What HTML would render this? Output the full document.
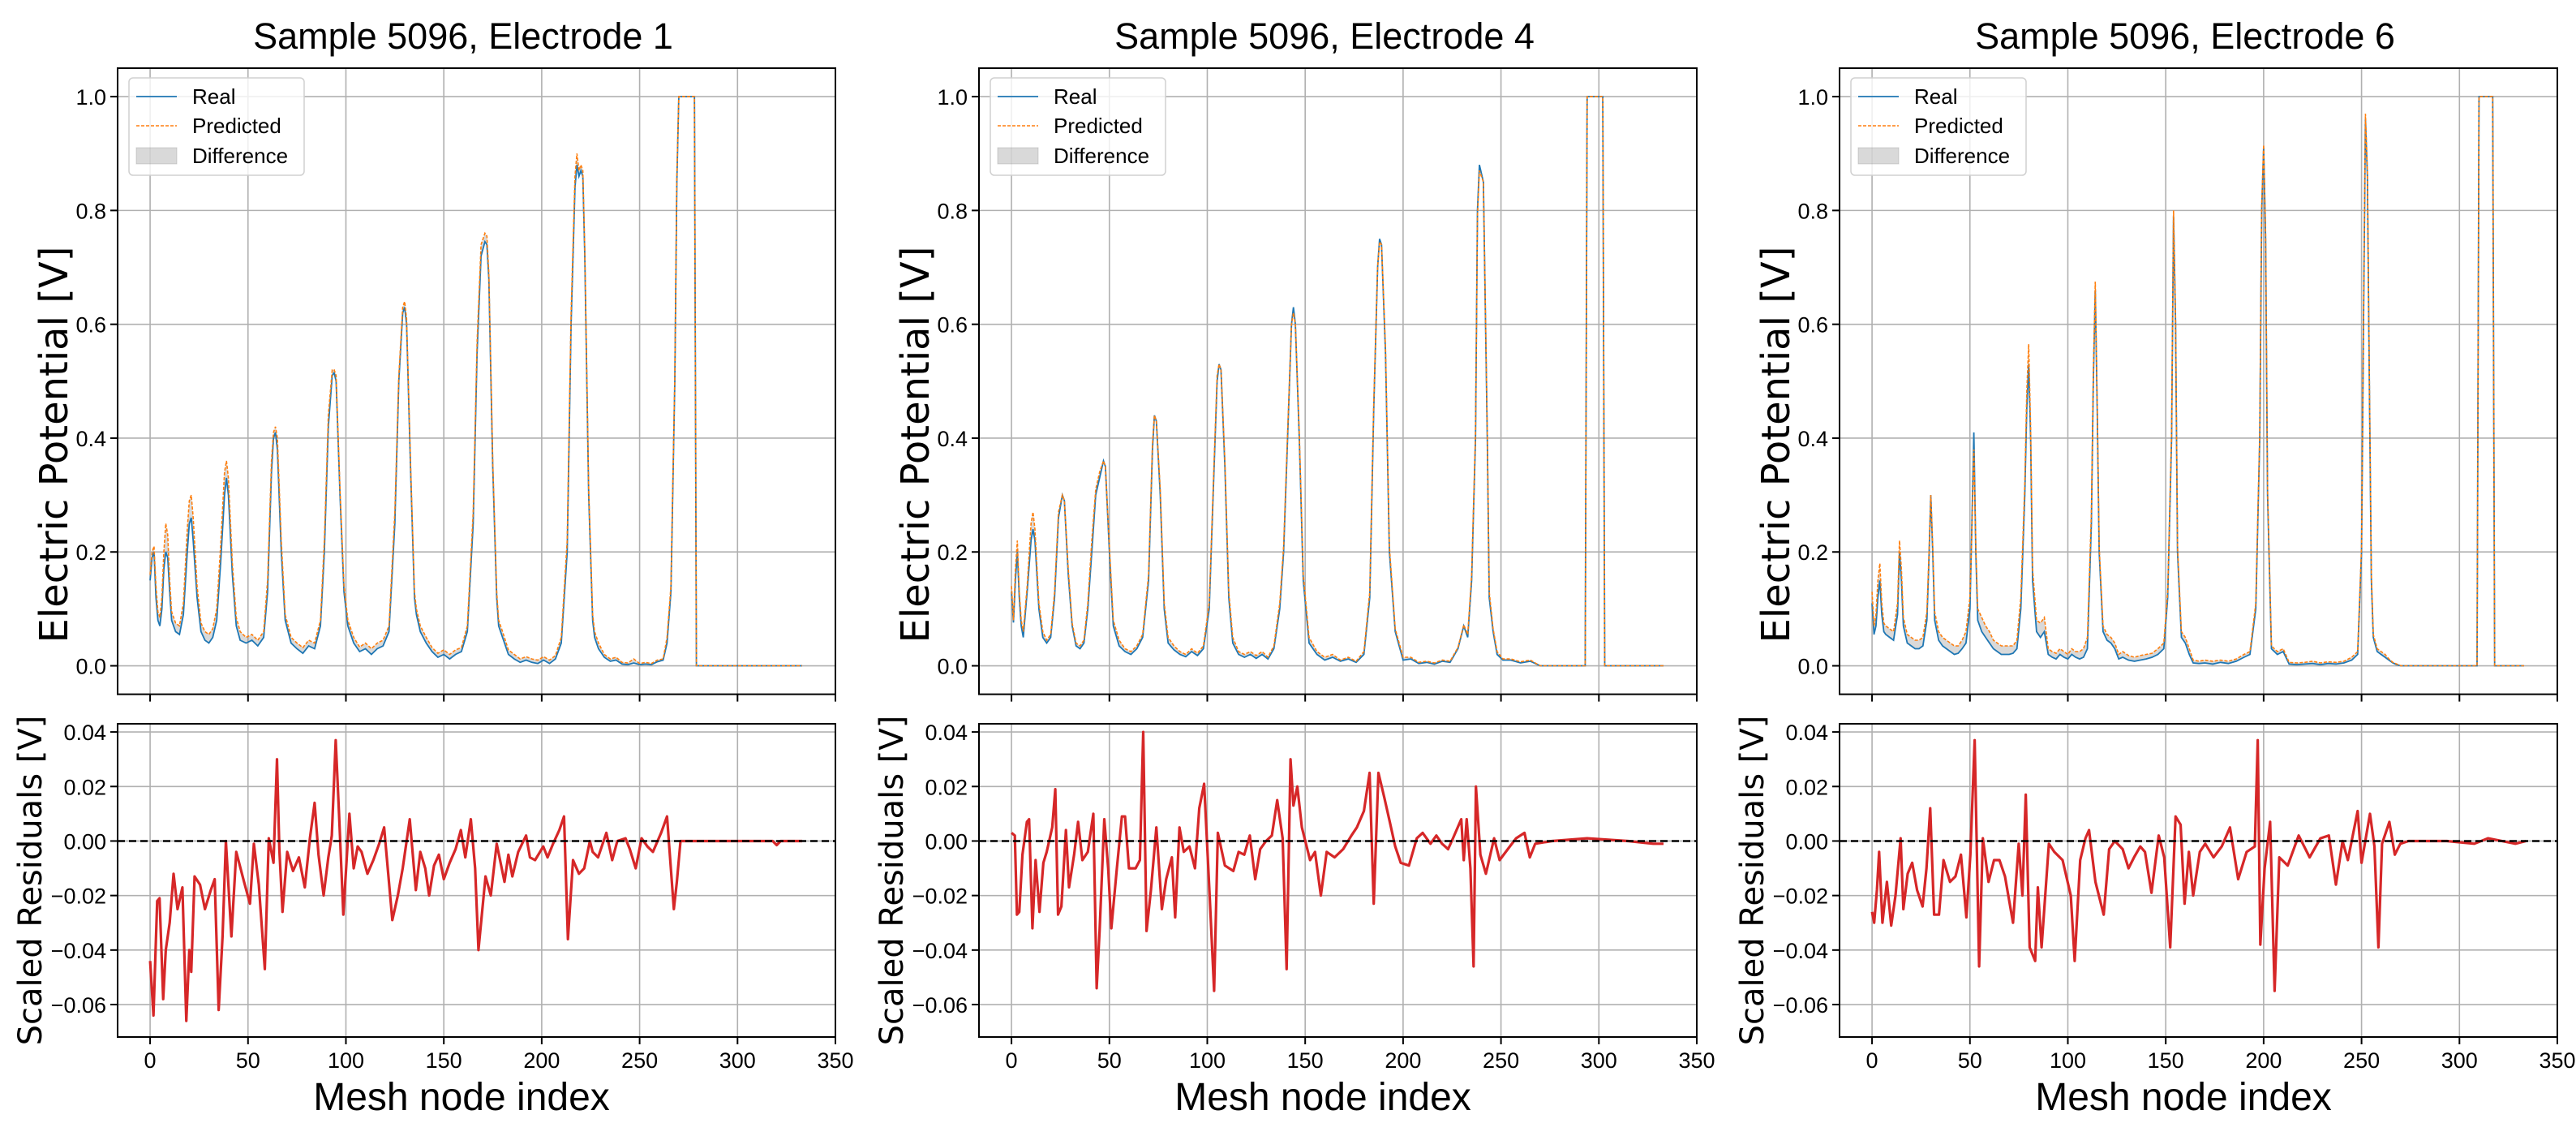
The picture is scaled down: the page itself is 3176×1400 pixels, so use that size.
<!DOCTYPE html>
<html><head><meta charset="utf-8">
<style>
html,body{margin:0;padding:0;background:#fff;}
svg{display:block;}
text{font-family:"Liberation Sans",sans-serif;}
</style></head>
<body>
<svg id="fig" width="3176" height="1400" viewBox="0 0 3176 1400" xmlns="http://www.w3.org/2000/svg"></svg>
<script>
// ---------------- DATA ----------------
const panelTitles = ["Sample 5096, Electrode 1","Sample 5096, Electrode 4","Sample 5096, Electrode 6"];
const xTicks = [0,50,100,150,200,250,300,350];
const topYTicks = [0.0,0.2,0.4,0.6,0.8,1.0];
const topYTickLabels = ["0.0","0.2","0.4","0.6","0.8","1.0"];
const resYTicks = [0.04,0.02,0.0,-0.02,-0.04,-0.06];
const resYTickLabels = ["0.04","0.02","0.00","\u22120.02","\u22120.04","\u22120.06"];

const nodes1 = [0,1,2,3,4,5,6,7,8,9,
 10,11,13,15,17,19,20,21,22,24,
 26,28,30,32,34,36,38,39,40,42,
 44,46,49,52,55,58,60,62,63,64,
 65,67,69,72,75,78,81,84,87,89,
 91,93,94,95,97,99,101,104,107,110,
 113,116,119,122,125,127,129,130,131,133,
 135,136,138,141,144,147,150,153,156,159,
 162,165,167,169,171,172,173,175,177,178,
 180,183,186,189,192,195,198,201,204,207,
 210,213,215,217,218,219,220,221,222,224,
 226,227,229,232,235,238,241,244,247,250,
 253,256,259,262,264,266,268,269,270,278,
 279,333];
const real1 = [.15,.19,.20,.12,.08,.07,.10,.17,.20,.19,
 .13,.08,.06,.055,.09,.20,.25,.26,.22,.12,
 .06,.045,.04,.05,.08,.18,.30,.33,.30,.16,
 .07,.045,.04,.045,.035,.05,.13,.34,.40,.41,
 .38,.20,.08,.04,.03,.022,.035,.03,.07,.20,
 .42,.51,.515,.50,.30,.13,.07,.04,.025,.03,
 .02,.03,.035,.06,.25,.50,.62,.63,.60,.35,
 .12,.09,.06,.04,.025,.015,.02,.012,.02,.025,
 .06,.25,.55,.72,.745,.74,.68,.35,.12,.07,
 .05,.02,.012,.006,.01,.006,.004,.01,.004,.012,
 .04,.20,.60,.84,.88,.86,.87,.86,.72,.30,
 .08,.05,.03,.015,.008,.01,.003,.002,.005,.002,
 .003,.002,.007,.01,.04,.13,.50,.85,1,1,
 0,0];
const pred1 = [.16,.20,.21,.14,.095,.085,.12,.20,.25,.23,
 .15,.095,.075,.07,.11,.24,.29,.30,.26,.14,
 .075,.06,.055,.065,.10,.21,.34,.36,.33,.18,
 .085,.06,.05,.055,.045,.06,.15,.36,.41,.42,
 .40,.22,.09,.05,.04,.032,.045,.04,.08,.22,
 .44,.52,.52,.51,.31,.14,.08,.05,.033,.04,
 .03,.04,.045,.07,.27,.51,.63,.64,.61,.36,
 .13,.10,.07,.05,.032,.022,.028,.02,.028,.032,
 .07,.27,.57,.74,.76,.755,.69,.36,.13,.08,
 .06,.028,.02,.012,.016,.012,.01,.016,.01,.018,
 .05,.22,.62,.86,.90,.87,.88,.87,.73,.31,
 .09,.06,.04,.02,.012,.015,.006,.005,.012,.004,
 .006,.004,.01,.012,.05,.14,.51,.86,1,1,
 0,0];

const nodes2 = [0,1,2,3,4,5,6,8,10,11,
 12,14,16,18,20,22,24,26,27,29,
 31,33,35,37,39,41,43,45,47,48,
 50,52,55,58,61,64,67,70,72,73,
 74,76,78,80,83,86,89,92,95,98,
 101,103,105,106,107,109,111,113,116,119,
 122,125,128,131,134,137,139,141,143,144,
 145,147,149,152,156,160,164,168,172,176,
 180,183,185,187,188,189,191,193,196,200,
 204,208,212,216,220,224,228,231,233,235,
 237,238,239,241,243,244,246,248,251,255,
 260,265,270,293,294,302,303,333];
const real2 = [.13,.076,.15,.20,.12,.07,.05,.13,.22,.24,
 .22,.10,.05,.04,.05,.12,.26,.30,.29,.16,
 .07,.035,.03,.04,.10,.20,.30,.33,.36,.35,
 .20,.07,.035,.025,.02,.03,.05,.15,.38,.44,
 .43,.30,.10,.04,.028,.02,.016,.025,.018,.03,
 .10,.30,.50,.53,.52,.35,.12,.04,.02,.015,
 .02,.013,.02,.012,.03,.10,.20,.40,.60,.63,
 .60,.40,.15,.04,.02,.01,.015,.008,.012,.006,
 .02,.12,.45,.70,.75,.74,.55,.20,.06,.01,
 .012,.004,.006,.003,.008,.006,.03,.07,.05,.15,
 .40,.80,.88,.85,.40,.12,.06,.02,.01,.01,
 .005,.008,0,0,1,1,0,0];
const pred2 = [.14,.08,.17,.22,.13,.08,.06,.14,.25,.27,
 .24,.11,.06,.045,.055,.13,.27,.30,.29,.17,
 .075,.04,.035,.045,.11,.22,.31,.34,.36,.35,
 .21,.08,.045,.03,.025,.035,.055,.16,.39,.44,
 .43,.31,.11,.05,.035,.025,.02,.03,.022,.035,
 .11,.31,.51,.53,.52,.36,.13,.05,.025,.02,
 .025,.018,.025,.015,.035,.11,.21,.41,.60,.62,
 .60,.41,.16,.05,.025,.015,.02,.01,.015,.008,
 .025,.13,.46,.70,.745,.74,.56,.21,.065,.015,
 .015,.006,.008,.005,.01,.008,.032,.072,.055,.16,
 .41,.79,.87,.85,.41,.13,.065,.025,.012,.012,
 .007,.01,0,0,1,1,0,0];

const nodes3 = [0,1,2,3,4,5,6,7,9,11,
 13,14,15,16,18,20,22,24,26,28,
 29,30,31,32,34,36,38,40,42,44,
 46,48,50,51,52,53,54,56,58,60,
 62,64,66,68,70,72,74,76,78,79,
 80,81,82,84,86,88,90,92,94,96,
 98,100,102,104,106,108,110,112,113,114,
 115,116,118,120,122,124,126,128,131,134,
 137,140,143,146,149,151,153,154,155,156,
 158,160,162,164,167,170,174,178,182,186,
 190,193,196,198,199,200,201,202,204,207,
 210,213,217,221,225,229,233,237,241,245,
 248,250,251,252,253,254,255,256,258,260,
 262,264,266,268,270,309,310,317,318,333];
const real3 = [.11,.055,.07,.12,.15,.09,.06,.055,.05,.045,
 .09,.20,.15,.07,.04,.035,.03,.03,.035,.08,
 .18,.30,.20,.08,.045,.035,.03,.025,.02,.022,
 .03,.04,.10,.25,.41,.20,.08,.06,.05,.04,
 .03,.025,.02,.02,.02,.022,.03,.10,.30,.45,
 .53,.40,.15,.06,.05,.06,.02,.015,.012,.02,
 .015,.012,.02,.015,.012,.015,.03,.25,.50,.66,
 .45,.20,.06,.045,.04,.03,.012,.015,.01,.008,
 .01,.012,.015,.02,.03,.12,.40,.79,.60,.20,
 .05,.04,.02,.005,.004,.005,.003,.006,.004,.008,
 .015,.02,.10,.40,.80,.91,.75,.30,.03,.02,
 .025,.003,.002,.003,.004,.002,.004,.003,.005,.01,
 .02,.20,.60,.96,.86,.50,.15,.05,.025,.02,
 .015,.01,.005,.002,0,0,1,1,0,0];
const pred3 = [.13,.07,.09,.15,.18,.11,.075,.07,.065,.06,
 .11,.22,.17,.085,.055,.05,.045,.045,.05,.095,
 .19,.30,.21,.095,.06,.05,.045,.04,.035,.035,
 .045,.06,.12,.24,.38,.21,.10,.085,.07,.06,
 .045,.04,.035,.035,.035,.035,.045,.12,.32,.48,
 .565,.42,.17,.08,.075,.085,.03,.025,.022,.03,
 .025,.02,.03,.025,.025,.03,.05,.27,.51,.675,
 .46,.21,.07,.055,.05,.04,.02,.025,.018,.015,
 .018,.02,.022,.03,.04,.13,.41,.80,.61,.21,
 .06,.05,.03,.01,.008,.01,.008,.01,.008,.012,
 .02,.025,.11,.41,.81,.915,.76,.31,.035,.025,
 .03,.006,.005,.006,.008,.005,.007,.006,.008,.015,
 .025,.21,.61,.97,.87,.51,.16,.055,.03,.025,
 .02,.012,.006,.003,0,0,1,1,0,0];

const resNodes1 = [0,1.7,3.6,4.8,6.7,8,10,12,14,16.5,18.5,20,21,22.7,25.5,28,31,33,35,37,38.7,41.5,44,48,51,53,55.5,58.6,60.6,63,64.8,66,67.6,70,73,76,79,81.6,84,86,88.6,91,92.8,94.8,96.5,98.7,101.8,104,106,108,111,114,117,119.5,123.7,126.5,129,132.6,135.7,138,140.5,142.5,145,147.5,150,153,156,158.7,161,163.8,166,167.7,171.3,174,177,181,183,185,188,192,194,196.6,200.8,203,205.8,209,211.4,213.4,216,219,221.7,224.6,226,228.8,233,236,238.6,242.8,245,248,251,254,256.8,261,264,267.5,269,270.9,280,300,318,320,322,333];
const resVals1 = [-.044,-.064,-.022,-.021,-.058,-.04,-.03,-.012,-.025,-.017,-.066,-.04,-.048,-.013,-.016,-.025,-.018,-.014,-.062,-.035,0,-.035,-.004,-.015,-.023,-.001,-.016,-.047,.001,-.008,.03,-.003,-.026,-.004,-.011,-.006,-.017,.001,.014,-.005,-.02,-.006,.002,.037,.01,-.027,.01,-.01,-.002,-.004,-.012,-.007,-.001,.005,-.029,-.02,-.01,.008,-.018,-.004,-.01,-.02,-.009,-.005,-.014,-.008,-.003,.004,-.006,.008,-.01,-.04,-.013,-.02,-.001,-.015,-.005,-.013,-.004,.002,-.006,-.007,-.002,-.006,-.001,.004,.009,-.036,-.007,-.012,-.01,0,-.004,-.006,.003,-.007,0,.001,-.003,-.01,.001,-.002,-.004,.003,.009,-.025,-.015,0,0,0,0,-.0015,0,0];

const resNodes2 = [0,1.7,2.8,4,5.6,7.9,9,10.7,12.3,14.3,16.3,18,20.8,22.4,23.8,25.5,27.8,29.4,32,34,36.2,39,41.8,43.5,45,47.4,49.4,51,53.8,56.4,58,60,63.4,65.6,67.3,69,71.2,74,76.8,79,81.9,83.6,85.8,88,90.9,93.7,95.9,98.4,101.2,103.5,105.4,109,113.3,116,118.9,121.7,124.5,127,130,133,135.7,138.5,140.5,142.5,144,146,148.3,152.5,155,158,161,165,169.4,173.6,176.4,180,182.9,185,187.4,190.4,193.2,196,198.8,203,207,210,214,217,219.9,223,225.5,229.7,231,232.5,234.4,236,237.2,239.5,242.3,246.5,249.3,253.5,257.7,262,264.7,267.5,276,294,315,327.8,333];
const resVals2 = [.003,.002,-.027,-.026,-.005,.007,.008,-.032,-.007,-.026,-.008,-.004,.005,.019,-.027,-.024,.004,-.017,-.005,.007,-.007,-.004,.01,-.054,-.033,.008,-.01,-.032,-.01,.009,.009,-.01,-.01,-.007,.04,-.033,-.018,.005,-.025,-.014,-.006,-.028,.005,-.004,-.002,-.01,.012,.021,-.02,-.055,.003,-.009,-.011,-.004,-.005,.002,-.014,-.003,0,.002,.015,.001,-.047,.03,.013,.02,.005,-.007,-.004,-.02,-.004,-.006,-.003,.002,.005,.011,.025,-.023,.025,.016,.007,-.002,-.008,-.009,.001,.003,-.001,.002,-.001,-.003,.001,.008,-.007,.008,-.01,-.046,.02,-.005,-.012,.001,-.007,-.003,.001,.003,-.006,-.001,0,.001,0,-.001,-.001];

const resNodes3 = [0,1.1,2.5,3.6,5.3,7.6,9.8,12,14.6,16,18.2,20.5,23,25.8,27.8,29.7,31.7,34.2,36.5,39.8,42.6,45.4,48.2,50.2,52.4,54.7,56.6,59.5,62.3,65.1,67.9,72,74.9,76.8,78.5,80.5,83.3,84.7,86.6,90.3,93.1,97.3,101.5,103.5,106.3,109,110.8,114.1,118.3,121.1,124,128,131,133.8,137,139.4,142.7,146.4,149.2,152.3,155,157.6,159.6,161.8,164,167.4,170.2,174.4,178.6,182.8,187,191.3,195.5,197,198.3,200.5,203.3,205.6,208,212.3,217.9,223.5,229,233.3,236.9,240.3,243,248,250,254.3,256.6,258.6,260.5,264.2,267,269.8,274,293.6,307.6,314.6,328.6,334];
const resVals3 = [-.026,-.03,-.018,-.004,-.03,-.015,-.031,-.02,.001,-.025,-.012,-.008,-.018,-.024,-.01,.012,-.027,-.027,-.007,-.015,-.013,-.005,-.028,-.005,.037,-.046,.001,-.015,-.007,-.007,-.013,-.03,-.001,-.02,.017,-.039,-.044,-.017,-.039,-.001,-.004,-.007,-.02,-.044,-.007,.001,.004,-.015,-.027,-.003,0,-.003,-.01,-.006,-.002,-.004,-.019,.002,-.006,-.039,.009,.006,-.023,-.004,-.02,-.004,-.001,-.006,-.002,.005,-.014,-.004,-.002,.037,-.038,-.01,.007,-.055,-.006,-.009,.002,-.006,.001,.002,-.016,0,-.007,.011,-.008,.01,-.002,-.039,-.001,.007,-.005,-.001,0,0,-.001,.001,-.001,0];

// ---------------- DRAW ----------------
const NS = "http://www.w3.org/2000/svg";
const svg = document.getElementById("fig");
function mk(tag, attrs, parent){
  const e = document.createElementNS(NS, tag);
  for (const k in attrs) e.setAttribute(k, attrs[k]);
  (parent||svg).appendChild(e);
  return e;
}
const panels = [
  {left:145, nodes:nodes1, real:real1, pred:pred1, rn:resNodes1, rv:resVals1},
  {left:1207, nodes:nodes2, real:real2, pred:pred2, rn:resNodes2, rv:resVals2},
  {left:2268, nodes:nodes3, real:real3, pred:pred3, rn:resNodes3, rv:resVals3}
];
const AXW = 885, XMIN = -16.6, XMAX = 350;
const TOP = {y0:84, y1:855.6, vmin:-0.05, vmax:1.05};
const BOT = {y0:892, y1:1278, vmin:-0.0719, vmax:0.043};
const GRID = "#b0b0b0";

panels.forEach((p, i) => {
  const L = p.left;
  const xs = v => L + (v - XMIN) / (XMAX - XMIN) * AXW;
  const yT = v => TOP.y1 - (v - TOP.vmin) / (TOP.vmax - TOP.vmin) * (TOP.y1 - TOP.y0);
  const yB = v => BOT.y1 - (v - BOT.vmin) / (BOT.vmax - BOT.vmin) * (BOT.y1 - BOT.y0);

  const g = mk("g", {});
  
  

  const t = mk("text", {x: L + 426, y: 60, "font-size": 45, "text-anchor": "middle", fill: "#000"}, g);
  t.textContent = panelTitles[i];
  
  

  // ---- top axes ----
  const gt = mk("g", {}, g);
  
  
  const clipT = mk("clipPath", {id: "ct" + i}, gt);
  mk("rect", {x: L, y: TOP.y0, width: AXW, height: TOP.y1 - TOP.y0}, clipT);
  xTicks.forEach(v => {
    const gl = mk("line", {x1: xs(v), x2: xs(v), y1: TOP.y0, y2: TOP.y1, stroke: GRID, "stroke-width": 1.6}, gt);
    
    
    mk("line", {x1: xs(v), x2: xs(v), y1: TOP.y1, y2: TOP.y1 + 9, stroke: "#000", "stroke-width": 2}, gt);
  });
  topYTicks.forEach((v, k) => {
    const gl = mk("line", {x1: L, x2: L + AXW, y1: yT(v), y2: yT(v), stroke: GRID, "stroke-width": 1.6}, gt);
    
    
    mk("line", {x1: L - 9, x2: L, y1: yT(v), y2: yT(v), stroke: "#000", "stroke-width": 2}, gt);
    const tl = mk("text", {x: L - 14, y: yT(v) + 10, "font-size": 27, "text-anchor": "end", fill: "#000"}, gt);
    tl.textContent = topYTickLabels[k];
    
    
  });
  let d = "M" + p.nodes.map((n, k) => xs(n).toFixed(1) + "," + yT(p.real[k]).toFixed(1)).join("L");
  for (let k = p.nodes.length - 1; k >= 0; k--) d += "L" + xs(p.nodes[k]).toFixed(1) + "," + yT(p.pred[k]).toFixed(1);
  const fill = mk("path", {d: d + "Z", fill: "#808080", "fill-opacity": 0.3, stroke: "none", "clip-path": "url(#ct" + i + ")"}, gt);
  
  
  const realPts = p.nodes.map((n, k) => xs(n).toFixed(1) + "," + yT(p.real[k]).toFixed(1)).join(" ");
  const rl = mk("polyline", {points: realPts, fill: "none", stroke: "#1f77b4", "stroke-width": 1.8, "clip-path": "url(#ct" + i + ")"}, gt);
  
  
  const predPts = p.nodes.map((n, k) => xs(n).toFixed(1) + "," + yT(p.pred[k]).toFixed(1)).join(" ");
  const pl = mk("polyline", {points: predPts, fill: "none", stroke: "#ff7f0e", "stroke-width": 1.6, "stroke-dasharray": "4,2", "clip-path": "url(#ct" + i + ")"}, gt);
  
  
  mk("rect", {x: L, y: TOP.y0, width: AXW, height: TOP.y1 - TOP.y0, fill: "none", stroke: "#000", "stroke-width": 2}, gt);
  const yl = mk("text", {x: 0, y: 0, "font-size": 48, "text-anchor": "middle", fill: "#000", transform: "translate(" + (L - 62) + ",548) rotate(-90)", style: "font-family:'DejaVu Sans',sans-serif"}, gt);
  yl.textContent = "Electric Potential [V]";
  
  

  const lg = mk("g", {}, gt);
  
  
  mk("rect", {x: L + 14, y: 96, width: 216, height: 120, rx: 5, fill: "#fff", "fill-opacity": 0.8, stroke: "#d0d0d0", "stroke-width": 1.5}, lg);
  const entries = [["Real", "line"], ["Predicted", "dash"], ["Difference", "patch"]];
  const ey = [119, 155, 192];
  entries.forEach((en, k) => {
    const eg = mk("g", {}, lg);
    
    
    if (en[1] === "line") mk("line", {x1: L + 23, x2: L + 73, y1: ey[k], y2: ey[k], stroke: "#1f77b4", "stroke-width": 1.8}, eg);
    else if (en[1] === "dash") mk("line", {x1: L + 23, x2: L + 73, y1: ey[k], y2: ey[k], stroke: "#ff7f0e", "stroke-width": 1.6, "stroke-dasharray": "4,2"}, eg);
    else mk("rect", {x: L + 23, y: ey[k] - 10, width: 50, height: 20, fill: "#808080", "fill-opacity": 0.3, stroke: "#808080", "stroke-opacity": 0.3}, eg);
    const tx = mk("text", {x: L + 92, y: ey[k] + 9, "font-size": 26, fill: "#000"}, eg);
    tx.textContent = en[0];
  });

  // ---- residual axes ----
  const gb = mk("g", {}, g);
  
  
  const clipB = mk("clipPath", {id: "cb" + i}, gb);
  mk("rect", {x: L, y: BOT.y0, width: AXW, height: BOT.y1 - BOT.y0}, clipB);
  xTicks.forEach(v => {
    const gl = mk("line", {x1: xs(v), x2: xs(v), y1: BOT.y0, y2: BOT.y1, stroke: GRID, "stroke-width": 1.6}, gb);
    
    
    mk("line", {x1: xs(v), x2: xs(v), y1: BOT.y1, y2: BOT.y1 + 9, stroke: "#000", "stroke-width": 2}, gb);
    const tl = mk("text", {x: xs(v), y: BOT.y1 + 38, "font-size": 27, "text-anchor": "middle", fill: "#000"}, gb);
    tl.textContent = String(v);
    
    
  });
  resYTicks.forEach((v, k) => {
    const gl = mk("line", {x1: L, x2: L + AXW, y1: yB(v), y2: yB(v), stroke: GRID, "stroke-width": 1.6}, gb);
    
    
    mk("line", {x1: L - 9, x2: L, y1: yB(v), y2: yB(v), stroke: "#000", "stroke-width": 2}, gb);
    const tl = mk("text", {x: L - 14, y: yB(v) + 10, "font-size": 27, "text-anchor": "end", fill: "#000"}, gb);
    tl.textContent = resYTickLabels[k];
    
    
  });
  const resPts = p.rn.map((n, k) => xs(n).toFixed(1) + "," + yB(p.rv[k]).toFixed(1)).join(" ");
  const rs = mk("polyline", {points: resPts, fill: "none", stroke: "#d62728", "stroke-width": 3.2, "stroke-linejoin": "round", "clip-path": "url(#cb" + i + ")"}, gb);
  
  
  const zl = mk("line", {x1: L, x2: L + AXW, y1: yB(0), y2: yB(0), stroke: "#000", "stroke-width": 2.5, "stroke-dasharray": "9,5"}, gb);
  
  
  mk("rect", {x: L, y: BOT.y0, width: AXW, height: BOT.y1 - BOT.y0, fill: "none", stroke: "#000", "stroke-width": 2}, gb);
  const yl2 = mk("text", {x: 0, y: 0, "font-size": 40, "text-anchor": "middle", fill: "#000", transform: "translate(" + (L - 94) + "," + ((BOT.y0 + BOT.y1) / 2) + ") rotate(-90)", style: "font-family:'DejaVu Sans',sans-serif"}, gb);
  yl2.textContent = "Scaled Residuals [V]";
  
  
  const xl = mk("text", {x: L + 424, y: 1368, "font-size": 48, "text-anchor": "middle", fill: "#000"}, gb);
  xl.textContent = "Mesh node index";
  
  
});
</script>
</body></html>
